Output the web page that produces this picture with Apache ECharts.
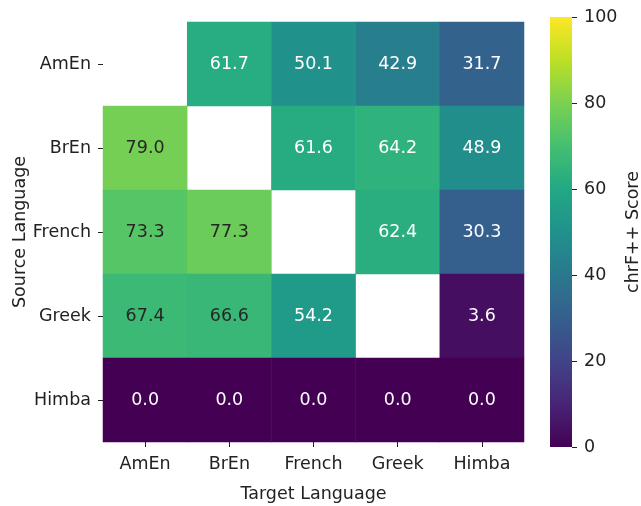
<!DOCTYPE html>
<html>
<head>
<meta charset="utf-8">
<script src="https://cdn.jsdelivr.net/npm/echarts@6/dist/echarts.min.js"></script>
<style>
  html, body { margin: 0; padding: 0; background: #fff; }
  #chart { width: 641px; height: 506px; }
</style>
</head>
<body>
<div id="chart"></div>
<script>
// Translation languages: rows = source, columns = target
const targetLangs = ['AmEn', 'BrEn', 'French', 'Greek', 'Himba'];
const sourceLangs = ['AmEn', 'BrEn', 'French', 'Greek', 'Himba'];

// chrF++ scores per source row (null = same language, left blank)
const rowAmEn   = [null, 61.7, 50.1, 42.9, 31.7];
const rowBrEn   = [79.0, null, 61.6, 64.2, 48.9];
const rowFrench = [73.3, 77.3, null, 62.4, 30.3];
const rowGreek  = [67.4, 66.6, 54.2, null, 3.6];
const rowHimba  = [0.0, 0.0, 0.0, 0.0, 0.0];
const scoreRows = [rowAmEn, rowBrEn, rowFrench, rowGreek, rowHimba];

const colorbarTicks = [0, 20, 40, 60, 80, 100];

const viridis = ['#440154', '#482475', '#414487', '#355f8d', '#2a788e', '#21918c',
                 '#22a884', '#44bf70', '#7ad151', '#bddf26', '#fde725'];

const FONT = 'DejaVu Sans';
const TXT = '#222222';
const FS = 17.5;

const cells = [];
scoreRows.forEach((row, r) => {
  row.forEach((v, c) => {
    if (v === null) return;
    cells.push({
      value: [c, r, v],
      label: { color: v >= 65 ? '#262626' : '#ffffff' }
    });
  });
});

const chart = echarts.init(document.getElementById('chart'), null, { renderer: 'canvas' });
chart.setOption({
  animation: false,
  backgroundColor: '#ffffff',
  textStyle: { fontFamily: FONT },
  grid: [
    { left: 103, top: 22, width: 421, height: 420, containLabel: false, outerBoundsMode: 'none' },
    { left: 550, top: 17, width: 22, height: 430, containLabel: false, outerBoundsMode: 'none' }
  ],
  xAxis: [
    {
      type: 'category', gridIndex: 0, data: targetLangs,
      position: 'bottom',
      axisLine: { show: false },
      axisTick: { show: true, length: 5, alignWithLabel: true, lineStyle: { color: TXT, width: 1 } },
      axisLabel: { color: TXT, fontSize: FS, fontFamily: FONT, margin: 13 },
      splitLine: { show: false },
      name: 'Target Language', nameLocation: 'middle', nameGap: 43, nameMoveOverlap: false,
      nameTextStyle: { color: TXT, fontSize: FS, fontFamily: FONT }
    },
    {
      type: 'category', gridIndex: 1, data: ['scale'], show: false
    }
  ],
  yAxis: [
    {
      type: 'category', gridIndex: 0, data: sourceLangs, inverse: true,
      axisLine: { show: false },
      axisTick: { show: true, length: 5, alignWithLabel: true, lineStyle: { color: TXT, width: 1 } },
      axisLabel: { color: TXT, fontSize: FS, fontFamily: FONT, margin: 12 },
      splitLine: { show: false },
      name: 'Source Language', nameLocation: 'middle', nameGap: 74, nameMoveOverlap: false,
      nameTextStyle: { color: TXT, fontSize: FS, fontFamily: FONT }
    },
    {
      type: 'value', gridIndex: 1, position: 'right',
      min: 0, max: 100, interval: 20,
      axisLine: { show: false },
      axisTick: { show: true, length: 5, lineStyle: { color: TXT, width: 1 } },
      axisLabel: {
        color: TXT, fontSize: FS, fontFamily: FONT, margin: 12,
        customValues: colorbarTicks
      },
      splitLine: { show: false },
      name: 'chrF++ Score', nameLocation: 'middle', nameGap: 52, nameMoveOverlap: false,
      nameTextStyle: { color: TXT, fontSize: FS, fontFamily: FONT }
    }
  ],
  visualMap: {
    show: false, type: 'continuous', min: 0, max: 100,
    seriesIndex: 0, dimension: 2,
    inRange: { color: viridis }
  },
  series: [
    {
      type: 'heatmap', xAxisIndex: 0, yAxisIndex: 0,
      data: cells,
      label: {
        show: true, fontSize: FS, fontFamily: FONT,
        formatter: p => p.value[2].toFixed(1)
      },
      itemStyle: { borderWidth: 0 },
      emphasis: { disabled: true }
    },
    {
      // colour scale bar spanning the full 0–100 range
      type: 'bar', xAxisIndex: 1, yAxisIndex: 1,
      data: [colorbarTicks[colorbarTicks.length - 1]],
      barWidth: '100%',
      itemStyle: {
        color: new echarts.graphic.LinearGradient(0, 1, 0, 0,
          viridis.map((c, i) => ({ offset: i / (viridis.length - 1), color: c })))
      },
      emphasis: { disabled: true },
      silent: true
    }
  ]
});
</script>
</body>
</html>
